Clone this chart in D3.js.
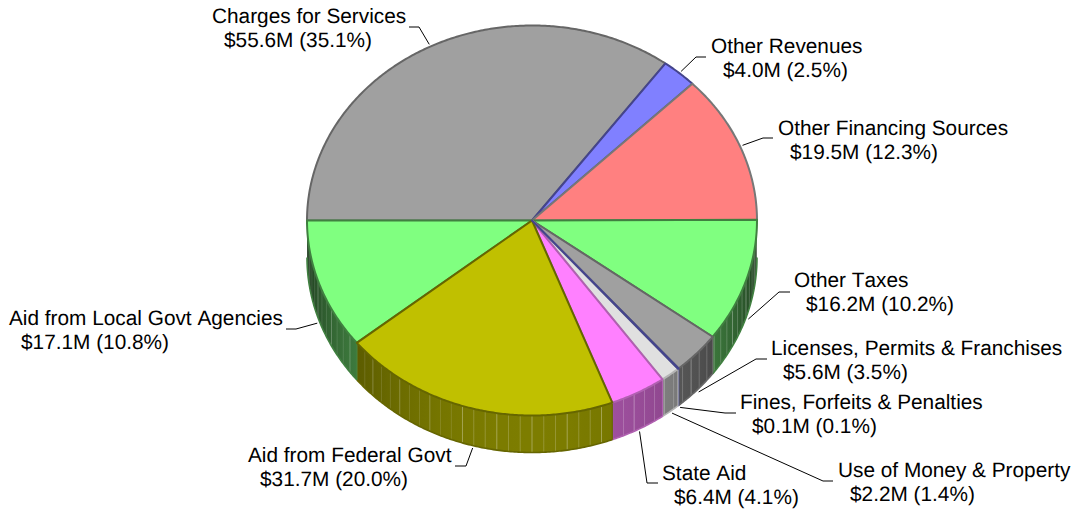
<!DOCTYPE html>
<html>
<head>
<meta charset="utf-8">
<script src="https://cdn.jsdelivr.net/npm/d3@7/dist/d3.min.js"></script>
<style>
  html, body { margin: 0; padding: 0; background: #fff; }
  svg { display: block; }
  text {
    font-family: "Liberation Sans", Arial, sans-serif; font-size: 20.8px; fill: #000;
    font-kerning: none; text-rendering: geometricPrecision;
  }
</style>
</head>
<body>
<svg id="chart" width="1074" height="510"></svg>
<script>
// Revenue sources, clockwise from the nine o'clock position.
const categories = [
  "Charges for Services", "Other Revenues", "Other Financing Sources", "Other Taxes",
  "Licenses, Permits & Franchises", "Fines, Forfeits & Penalties", "Use of Money & Property",
  "State Aid", "Aid from Federal Govt", "Aid from Local Govt Agencies"
];
const amounts = [55.6, 4.0, 19.5, 16.2, 5.6, 0.1, 2.2, 6.4, 31.7, 17.1];
const percents = [35.1, 2.5, 12.3, 10.2, 3.5, 0.1, 1.4, 4.1, 20.0, 10.8];

// Slice styling.
const fills = ["#a0a0a0", "#8080ff", "#ff8080", "#80ff80", "#a0a0a0", "#8080ff", "#e0e0e0", "#ff80ff", "#c0c000", "#80ff80"];
const edges = ["#666666", "#44448c", "#777777", "#408040", "#666666", "#44448c", "#b4b4b4", "#b060b0", "#666600", "#408040"];

// Where each caption sits: [x, first baseline] and its leader elbow [x, y, end x].
const captionAt = [[212, 23], [711, 53], [778, 135], [794, 287], [771, 355], [740, 409], [838, 477], [662, 480], [248, 462], [9, 325]];
const elbows = [[419, 27, 409], [696, 57, 706], [763, 138, 773], [779, 292, 790], [756, 359, 767], [725, 413, 736], [823, 481, 833], [647, 483, 658], [466, 466, 455], [296, 329, 286]];

const svg = d3.select("#chart");
const defs = svg.append("defs");
const x = d3.scaleLinear().domain([-1, 1]).range([307, 757]);
const y = d3.scaleLinear().domain([-1, 1]).range([25.5, 415.5]);
const depth = 37;
const DEG = Math.PI / 180;

const pieData = d3.pie().sort(null).startAngle(1.5 * Math.PI).endAngle(3.5 * Math.PI)(amounts);

const px = a => x(Math.sin(a));
const py = a => y(-Math.cos(a));
const line = d3.line();
const arcPoints = (a0, a1, dy = 0) => {
  const n = Math.max(2, Math.ceil(Math.abs(a1 - a0) / (0.5 * DEG)));
  return d3.range(n + 1).map(i => {
    const a = a0 + (a1 - a0) * i / n;
    return [px(a), py(a) + dy];
  });
};
// Side wall brightness falls off away from the front of the pie.
const shade = a => Math.max(0.18, 0.19 - 0.46 * Math.cos(a));
const sideColor = (fill, a) => {
  const c = d3.rgb(fill), k = shade(a);
  return d3.rgb(c.r * k, c.g * k, c.b * k).formatHex();
};

// Front-facing wall: only the lower half of the ellipse shows.
const wall = svg.append("g");
pieData.forEach((d, i) => {
  const start = d.startAngle % (2 * Math.PI);
  const a0 = Math.max(start, 90 * DEG);
  const a1 = Math.min(start + (d.endAngle - d.startAngle), 270 * DEG);
  if (a1 <= a0) return;

  // Horizontal gradient carrying the shading across the slice's wall.
  const grad = defs.append("linearGradient")
    .attr("id", `wall-${i}`)
    .attr("gradientUnits", "userSpaceOnUse")
    .attr("x1", px(a0)).attr("x2", px(a1))
    .attr("y1", 0).attr("y2", 0);
  const count = Math.max(2, Math.ceil((a1 - a0) / (4 * DEG)));
  d3.range(count + 1).forEach(k => {
    const a = a0 + (a1 - a0) * k / count;
    grad.append("stop")
      .attr("offset", (px(a) - px(a0)) / (px(a1) - px(a0)))
      .attr("stop-color", sideColor(fills[i], a));
  });

  const g = wall.append("g");
  g.append("path")
    .attr("d", line(arcPoints(a0, a1).concat(arcPoints(a1, a0, depth))) + "Z")
    .attr("fill", `url(#wall-${i})`);

  // Fine light ribs down the wall.
  const firstRib = Math.ceil(a0 / (3 * DEG));
  for (let r = firstRib; r * 3 * DEG < a1; r++) {
    const a = r * 3 * DEG;
    const rib = (a > 200 * DEG ? 0.12 : 0.2) + (r % 3 === 0 ? 0.12 : 0);
    g.append("line")
      .attr("x1", px(a)).attr("x2", px(a))
      .attr("y1", py(a)).attr("y2", py(a) + depth)
      .attr("stroke", "#fff").attr("stroke-opacity", rib);
  }
  g.append("path")
    .attr("d", line(arcPoints(a0, a1, depth)))
    .attr("fill", "none").attr("stroke", edges[i]).attr("stroke-width", 1.6);
  [a0, a1].forEach(a => {
    if (a > 90.5 * DEG && a < 269.5 * DEG) {
      g.append("line")
        .attr("x1", px(a)).attr("x2", px(a))
        .attr("y1", py(a)).attr("y2", py(a) + depth)
        .attr("stroke", edges[i]).attr("stroke-width", 1.2);
    }
  });
});

// Top faces; the federal slice and the thin fines sliver keep their outlines on top.
const faces = svg.append("g").selectAll("path").data(pieData).join("path")
  .attr("d", d => line([[x(0), y(0)], ...arcPoints(d.startAngle, d.endAngle)]) + "Z")
  .attr("fill", (d, i) => fills[i])
  .attr("stroke", (d, i) => edges[i])
  .attr("stroke-width", 2)
  .attr("stroke-linejoin", "round");
faces.filter((d, i) => i === 8).raise();
faces.filter((d, i) => i === 5).raise();

// Leaders run from just outside each slice's midpoint to its caption.
const leaders = svg.append("g");
pieData.forEach((d, i) => {
  const m = ((d.startAngle + d.endAngle) / 2) % (2 * Math.PI);
  const front = m > Math.PI / 2 && m < 1.5 * Math.PI;
  const sx = x(Math.sin(m) * 1.012);
  const sy = y(-Math.cos(m) * 1.012) + (front ? depth : 0);
  const [ex, ey, tx] = elbows[i];
  leaders.append("path")
    .attr("d", line([[sx, sy], [ex, ey], [tx, ey]]))
    .attr("fill", "none").attr("stroke", "#000").attr("stroke-width", 1);
});

// Two-line captions; the second line is indented under the first.
const captions = svg.append("g");
categories.forEach((c, i) => {
  const [tx, ty] = captionAt[i];
  captions.append("text").attr("x", tx).attr("y", ty).text(c);
  captions.append("text").attr("x", tx + 12).attr("y", ty + 24)
    .text(`$${amounts[i].toFixed(1)}M (${percents[i].toFixed(1)}%)`);
});
</script>
</body>
</html>
